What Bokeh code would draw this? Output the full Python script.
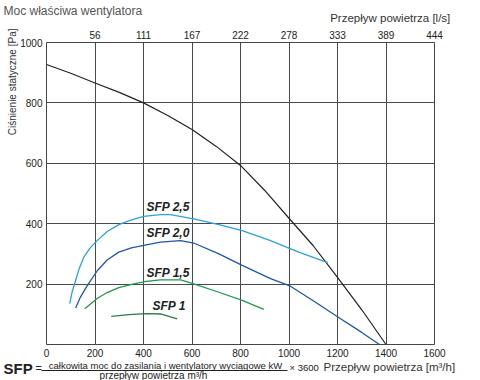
from bokeh.plotting import figure
from bokeh.layouts import column
from bokeh.models import Range1d, LinearAxis, FixedTicker, Label, BoxAnnotation, Title
from bokeh.embed import file_html
from bokeh.resources import INLINE

# ---- data ----
fan_q = [0, 100, 200, 300, 400, 500, 600, 700, 800, 900, 1000, 1100, 1200, 1300, 1400]
fan_p = [927, 898, 866, 835, 800, 758, 712, 656, 593, 510, 418, 327, 222, 115, 0]

sfp25_q = [96, 105, 120, 135, 154, 180, 209, 250, 298, 350, 401, 470, 511, 607, 711, 807, 924, 1040, 1160]
sfp25_p = [135, 172, 212, 252, 289, 320, 344, 374, 397, 413, 424, 430, 430, 416, 397, 377, 344, 306, 271]

sfp20_q = [120, 140, 168, 210, 250, 298, 350, 412, 470, 553, 607, 711, 807, 924, 1006, 1100, 1200, 1300, 1373]
sfp20_p = [121, 157, 195, 245, 280, 306, 320, 330, 339, 344, 336, 300, 262, 218, 193, 145, 92, 40, 0]

sfp15_q = [158, 210, 250, 298, 360, 412, 470, 553, 607, 711, 807, 896]
sfp15_p = [118, 153, 172, 188, 201, 209, 214, 214, 201, 173, 146, 116]

sfp10_q = [267, 340, 412, 470, 539]
sfp10_p = [93, 99, 102, 101, 85]

sfp_names = ["SFP 2,5", "SFP 2,0", "SFP 1,5", "SFP 1"]
sfp_label_q = [412, 412, 412, 437]
sfp_label_p = [454, 368, 238, 126]

x_ticks = [0, 200, 400, 600, 800, 1000, 1200, 1400, 1600]
y_ticks = [200, 400, 600, 800, 1000]
ls_ticks = [200, 400, 600, 800, 1000, 1200, 1400, 1600]
ls_labels = ["56", "111", "167", "222", "278", "333", "389", "444"]

# ---- layout (page pixels) ----
W = 480
TOP_H, MAIN_H, BOT_H = 26, 334, 20
FL, FT, FR, FB = 46, 42, 434, 344   # frame box, page px
FONT = "Liberation Sans"
TICK_COLOR = "#222222"


def strip(y_top, h):
    s = figure(width=W, height=h, x_range=Range1d(0, W), y_range=Range1d(y_top + h, y_top),
               output_backend="svg", toolbar_location=None,
               x_axis_type=None, y_axis_type=None)
    s.min_border = 0
    s.min_border_left = 0
    s.min_border_right = 0
    s.min_border_top = 0
    s.min_border_bottom = 0
    s.outline_line_color = None
    s.background_fill_color = "white"
    s.border_fill_color = "white"
    return s


def lab(fig, px, py, text, size, color="#333333", align="left", style="normal"):
    fig.add_layout(Label(x=px, y=py, text=text, text_font=FONT, text_font_size=size,
                         text_color=color, text_align=align, text_baseline="middle",
                         text_font_style=style))


# top strip: title and upper axis name
top_strip = strip(0, TOP_H)
lab(top_strip, 3, 10.5, "Moc właściwa wentylatora", "12px", color="#555555")
lab(top_strip, 453, 17.5, "Przepływ powietrza  [l/s]", "11.5px", color="#333333", align="right")

# main chart
p = figure(width=W, height=MAIN_H, x_range=Range1d(0, 1600), y_range=Range1d(0, 1000),
           output_backend="svg", toolbar_location=None)
p.min_border_left = FL
p.min_border_right = W - FR
p.min_border_top = FT - TOP_H
p.min_border_bottom = TOP_H + MAIN_H - FB
p.background_fill_color = "white"
p.border_fill_color = "white"
p.outline_line_color = "#444444"
p.outline_line_width = 1


def style_axis(ax):
    ax.axis_line_color = None
    ax.major_tick_line_color = None
    ax.minor_tick_line_color = None
    ax.major_tick_out = 0
    ax.major_tick_in = 0
    ax.minor_tick_out = 0
    ax.minor_tick_in = 0
    ax.major_label_text_font = FONT
    ax.major_label_text_font_size = "10px"
    ax.major_label_text_color = TICK_COLOR
    ax.major_label_standoff = 4


p.xaxis.ticker = FixedTicker(ticks=x_ticks)
p.yaxis.ticker = FixedTicker(ticks=y_ticks)
style_axis(p.xaxis[0])
style_axis(p.yaxis[0])

top_axis = LinearAxis(ticker=FixedTicker(ticks=ls_ticks),
                      major_label_overrides={t: s for t, s in zip(ls_ticks, ls_labels)})
style_axis(top_axis)
p.add_layout(top_axis, "above")

p.add_layout(Title(text="Ciśnienie statyczne [Pa]", align="right", offset=-14, standoff=0,
                   text_font=FONT, text_font_size="10px", text_font_style="normal",
                   text_color="#333333"), "left")

p.xgrid.ticker = FixedTicker(ticks=x_ticks)
p.ygrid.ticker = FixedTicker(ticks=[0] + y_ticks)
for g in (p.xgrid[0], p.ygrid[0]):
    g.grid_line_color = "#4a4a4a"
    g.grid_line_width = 1

p.line(fan_q, fan_p, line_color="#222222", line_width=1.2)
p.line(sfp25_q, sfp25_p, line_color="#2ba2df", line_width=1.3)
p.line(sfp20_q, sfp20_p, line_color="#1f58a6", line_width=1.3)
p.line(sfp15_q, sfp15_p, line_color="#1f9a4c", line_width=1.3)
p.line(sfp10_q, sfp10_p, line_color="#2a7a4a", line_width=1.3)

for name, q, pr in zip(sfp_names, sfp_label_q, sfp_label_p):
    p.add_layout(Label(x=q, y=pr, text=name, text_font=FONT, text_font_size="12px",
                       text_font_style="bold italic", text_color="#222222",
                       text_baseline="middle", text_align="left"))

# bottom strip: SFP formula and lower axis name
Y0 = TOP_H + MAIN_H
bot = strip(Y0, BOT_H)
lab(bot, 3, 368, "SFP", "15px", color="#222222", style="bold")
lab(bot, 35, 367, "=", "11px", color="#222222")
lab(bot, 165, 365.3, "całkowita moc do zasilania i wentylatory wyciągowe kW", "9.5px",
    color="#222222", align="center")
lab(bot, 153, 374.8, "przepływ powietrza m³/h", "10px", color="#222222", align="center")
lab(bot, 289, 367, "× 3600", "9.5px", color="#222222")
lab(bot, 323, 366.5, "Przepływ powietrza  [m³/h]", "11.5px", color="#333333")
bot.add_layout(BoxAnnotation(left=41, right=287, top=369.5, bottom=370.5,
                             fill_color="#222222", fill_alpha=1.0, line_color=None))

# the strips are wrapped in their own columns so their frames span the whole width
layout = column(column(top_strip), p, column(bot), spacing=0)
open("out.html", "w").write(file_html(layout, INLINE))
